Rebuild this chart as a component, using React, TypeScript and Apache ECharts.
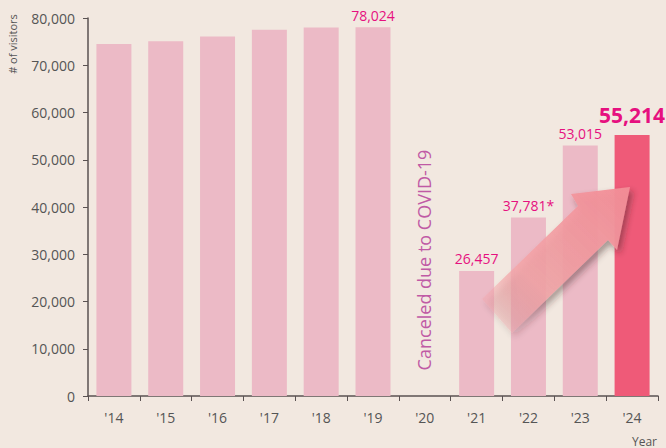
import React, { useEffect, useRef } from "react";
import * as echarts from "echarts";

const years = ["'14", "'15", "'16", "'17", "'18", "'19", "'20", "'21", "'22", "'23", "'24"];
const visitors: (number | null)[] = [74500, 75100, 76100, 77500, 78000, 78024, null, 26457, 37781, 53015, 55214];
const labelTexts: (string | null)[] = [null, null, null, null, null, "78,024", null, "26,457", "37,781*", "53,015", "55,214"];
const yTicks = [0, 10000, 20000, 30000, 40000, 50000, 60000, 70000, 80000];

const FONT = "'Open Sans', 'Noto Sans', sans-serif";
const BG = "#f2e8e0";
const BAR = "#ecbac6";
const HILITE = "#ef5a78";
const LABEL = "#e6107f";

export default function App() {
  const ref = useRef<HTMLDivElement>(null);
  useEffect(() => {
    if (!ref.current) return;
    const chart = echarts.init(ref.current, null, { renderer: "svg" });
    const last = visitors.length - 1;
    const data = visitors.map((v, i) => {
      const lt = labelTexts[i];
      const item: any = {
        value: v,
        itemStyle: { color: i === last ? HILITE : BAR },
      };
      if (lt) {
        item.label = {
          show: true,
          position: "top",
          distance: i === last ? 10 : 5,
          formatter: () => lt,
          color: LABEL,
          fontFamily: FONT,
          fontSize: i === last ? 21 : 14,
          fontWeight: i === last ? "bold" : "normal",
        };
      }
      return item;
    });
    chart.setOption({
      animation: false,
      backgroundColor: BG,
      textStyle: { fontFamily: FONT },
      grid: { left: 88, right: 8, top: 18, bottom: 52, containLabel: false },
      xAxis: {
        type: "category",
        data: years,
        axisLine: { lineStyle: { color: "#5a5252", width: 1.5 } },
        axisTick: { show: true, length: 5, lineStyle: { color: "#5a5252" } },
        axisLabel: { color: "#555", fontSize: 14, margin: 14, fontFamily: FONT },
      },
      yAxis: {
        type: "value",
        min: yTicks[0],
        max: yTicks[yTicks.length - 1],
        interval: yTicks[1] - yTicks[0],
        axisLine: { show: true, lineStyle: { color: "#5a5252", width: 1.5 } },
        axisTick: { show: true, length: 5, lineStyle: { color: "#5a5252" } },
        splitLine: { show: false },
        axisLabel: {
          color: "#555",
          fontSize: 14,
          margin: 13,
          fontFamily: FONT,
          formatter: (v: number) => v.toLocaleString("en-US"),
        },
      },
      series: [
        {
          type: "bar",
          data,
          barWidth: 35,
        },
      ],
      graphic: [
        {
          type: "text",
          x: 12,
          y: 44,
          rotation: Math.PI / 2,
          style: {
            text: "# of visitors",
            fill: "#555",
            fontSize: 11,
            fontFamily: FONT,
            align: "center",
            verticalAlign: "middle",
          },
        },
        {
          type: "text",
          x: 657,
          y: 441,
          style: {
            text: "Year",
            fill: "#555",
            fontSize: 12,
            fontFamily: FONT,
            align: "right",
            verticalAlign: "middle",
          },
        },
        {
          type: "text",
          x: 424,
          y: 260,
          rotation: Math.PI / 2,
          style: {
            text: "Canceled due to COVID-19",
            fill: "#c05aa5",
            fontSize: 18,
            fontFamily: FONT,
            align: "center",
            verticalAlign: "middle",
          },
        },
        {
          type: "polygon",
          z: 100,
          shape: {
            points: [
              [482, 299],
              [578, 206],
              [571, 194],
              [630, 187],
              [617, 250],
              [608, 240],
              [512, 333],
            ],
          },
          style: {
            fill: new echarts.graphic.LinearGradient(0, 1, 1, 0, [
              { offset: 0, color: "rgba(244,160,165,0.05)" },
              { offset: 0.35, color: "rgba(244,165,168,0.85)" },
              { offset: 1, color: "rgba(242,140,150,0.97)" },
            ]),
            shadowBlur: 6,
            shadowOffsetX: 3,
            shadowOffsetY: 4,
            shadowColor: "rgba(60,40,40,0.45)",
          },
        },
      ],
    });
    return () => chart.dispose();
  }, []);
  return <div ref={ref} style={{ width: 666, height: 448, position: "absolute", left: 0, top: 0 }} />;
}
